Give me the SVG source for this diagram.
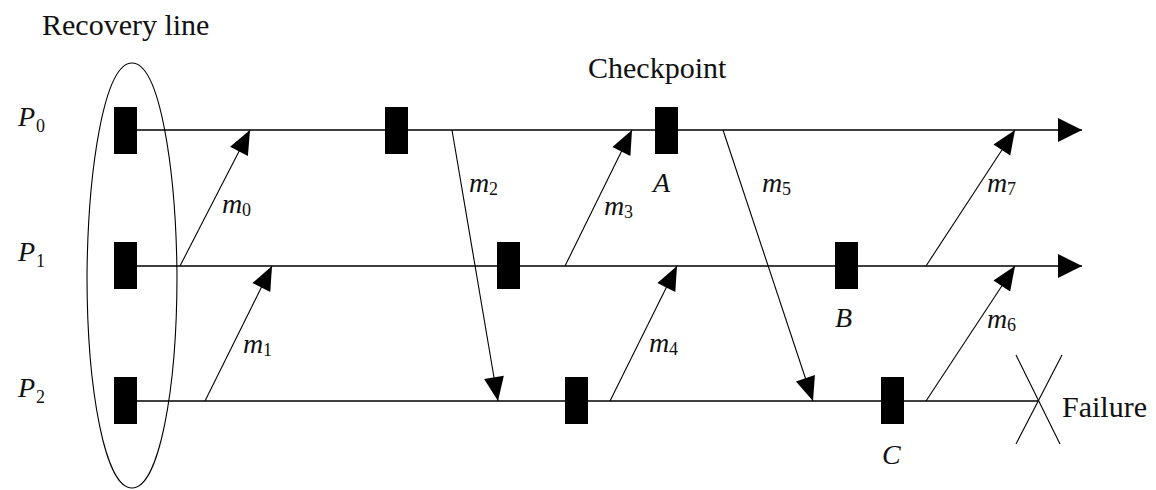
<svg xmlns="http://www.w3.org/2000/svg" width="1156" height="490" viewBox="0 0 1156 490">
  <defs>
    <marker id="msgArrow" viewBox="-25 -12 27 24" refX="0" refY="0" markerWidth="27" markerHeight="24" markerUnits="userSpaceOnUse" orient="auto">
      <path d="M0,0 L-24,-10 L-24,10 Z" fill="#000"/>
    </marker>
    <marker id="lineArrow" viewBox="-25 -13 27 26" refX="0" refY="0" markerWidth="27" markerHeight="26" markerUnits="userSpaceOnUse" orient="auto">
      <path d="M0,0 L-24,-12 L-24,12 Z" fill="#000"/>
    </marker>
  </defs>
  <style>
    text { font-family: "Liberation Serif", "Times New Roman", Times, "DejaVu Serif", serif; fill: #111; }
    .big { font-size: 30px; }
    .it { font-style: italic; font-size: 28px; }
    .sub { font-size: 18px; font-style: normal; }
    .timeline { stroke: #000; stroke-width: 1.4; fill: none; }
    .msg { stroke: #000; stroke-width: 1.1; fill: none; marker-end: url(#msgArrow); }
    .ckpt { fill: #000; }
    .thin { stroke: #000; stroke-width: 1.1; fill: none; }
  </style>
  <rect width="1156" height="490" fill="#fff"/>

  <g id="recovery-line">
    <path class="thin" d="M132,63 C104,63 88,170 87,275 C87,390 105,488 132,488 C159,488 177,390 177,275 C176,170 160,63 132,63 Z"/>
    <text class="big" x="42" y="35">Recovery line</text>
  </g>

  <g id="timelines">
    <line class="timeline" x1="137" y1="130" x2="1082" y2="130" marker-end="url(#lineArrow)"/>
    <line class="timeline" x1="137" y1="266" x2="1082" y2="266" marker-end="url(#lineArrow)"/>
    <line class="timeline" x1="137" y1="401" x2="1038" y2="401"/>
  </g>

  <g id="P0">
    <text class="it" x="18" y="126">P</text><text class="sub" x="36" y="132">0</text>
  </g>
  <g id="P1">
    <text class="it" x="18" y="261">P</text><text class="sub" x="36" y="267">1</text>
  </g>
  <g id="P2">
    <text class="it" x="18" y="397">P</text><text class="sub" x="36" y="403">2</text>
  </g>

  <g id="checkpoints">
    <rect class="ckpt" x="114" y="107" width="23" height="47"/>
    <rect class="ckpt" x="385" y="107" width="23" height="47"/>
    <rect class="ckpt" x="655" y="107" width="23" height="47"/>
    <rect class="ckpt" x="114" y="242" width="23" height="47"/>
    <rect class="ckpt" x="497" y="242" width="23" height="47"/>
    <rect class="ckpt" x="835" y="242" width="23" height="47"/>
    <rect class="ckpt" x="114" y="377" width="23" height="47"/>
    <rect class="ckpt" x="565" y="377" width="23" height="47"/>
    <rect class="ckpt" x="881" y="377" width="23" height="47"/>
  </g>

  <g id="checkpoint-label">
    <text class="big" x="588" y="78">Checkpoint</text>
  </g>
  <g id="A"><text class="it" x="653" y="192">A</text></g>
  <g id="B"><text class="it" x="835" y="327">B</text></g>
  <g id="C"><text class="it" x="882" y="464">C</text></g>

  <g id="failure">
    <line class="thin" x1="1016" y1="355" x2="1060" y2="444"/>
    <line class="thin" x1="1062" y1="355" x2="1016" y2="444"/>
    <text class="big" x="1062" y="417">Failure</text>
  </g>

  <g id="connectors">
    <line class="msg" x1="180" y1="266" x2="250" y2="130"/>
    <line class="msg" x1="205" y1="401" x2="272" y2="266"/>
    <line class="msg" x1="452" y1="130" x2="498" y2="401"/>
    <line class="msg" x1="565" y1="266" x2="632" y2="130"/>
    <line class="msg" x1="610" y1="401" x2="677" y2="266"/>
    <line class="msg" x1="723" y1="130" x2="813" y2="401"/>
    <line class="msg" x1="926" y1="401" x2="1015" y2="266"/>
    <line class="msg" x1="926" y1="266" x2="1015" y2="130"/>
  </g>

  <g id="message-labels">
    <g id="m0"><text class="it" x="222" y="213">m</text><text class="sub" x="242" y="216">0</text></g>
    <g id="m1"><text class="it" x="243" y="353">m</text><text class="sub" x="263" y="356">1</text></g>
    <g id="m2"><text class="it" x="469" y="192">m</text><text class="sub" x="489" y="195">2</text></g>
    <g id="m3"><text class="it" x="604" y="215">m</text><text class="sub" x="624" y="218">3</text></g>
    <g id="m4"><text class="it" x="649" y="352">m</text><text class="sub" x="669" y="355">4</text></g>
    <g id="m5"><text class="it" x="762" y="192">m</text><text class="sub" x="782" y="195">5</text></g>
    <g id="m6"><text class="it" x="987" y="328">m</text><text class="sub" x="1007" y="331">6</text></g>
    <g id="m7"><text class="it" x="987" y="192">m</text><text class="sub" x="1007" y="195">7</text></g>
  </g>
</svg>
